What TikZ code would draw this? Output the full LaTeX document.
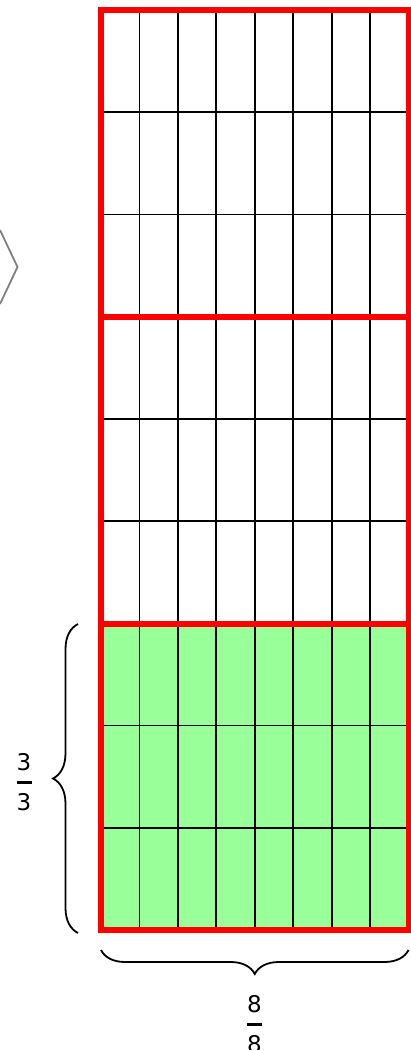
\documentclass[tikz,border=0pt]{standalone}
\usepackage{fontspec}
\setmainfont{DejaVu Sans}
\usetikzlibrary{decorations.pathreplacing}
\definecolor{cellgreen}{RGB}{153,255,153}
\tikzset{gridline/.style={draw=black,line width=1.8pt},
  block/.style={draw=red,line width=5.5pt},
  brc/.style={decorate,decoration={brace,amplitude=25pt},line width=1.8pt},
  fracnode/.style={align=center,inner sep=0pt,anchor=north,font=\fontsize{23}{20}\selectfont}}
\newcommand\fracbar{\rule[6.75pt]{15pt}{2.6pt}}

\begin{document}
\begin{tikzpicture}[x=1pt,y=-1pt]
\useasboundingbox (0,0) rectangle (411,1050);
% grid corners
\coordinate (tl) at (101,10);
\coordinate (br) at (408.5,930);
\fill[cellgreen] (101,624) rectangle (br);
\foreach \i in {1,...,7}{\draw[gridline] (101+\i*38.44,10) -- (101+\i*38.44,930);}
\foreach \j in {1,2,4,5,7,8}{\draw[gridline] (101,10+\j*102.22) -- (408.5,10+\j*102.22);}
\foreach \a/\b in {10/317,317/624,624/930}{\draw[block] (101,\a) rectangle (408.5,\b);}
% braces
\coordinate (lb1) at (78,933);
\coordinate (lb2) at (78,624);
\coordinate (bb1) at (408.5,950);
\coordinate (bb2) at (101,950);
\draw[brc] (lb1) -- (lb2);
\draw[brc,decoration={amplitude=24pt}] (bb1) -- (bb2);
\node[fracnode] (rowfrac) at (24,753) {3\\\fracbar\\3};
\node[fracnode] (colfrac) at (254.5,995) {8\\\fracbar\\8};
% arrow at left edge
\draw[gray,line width=1.8pt] (0,230) -- (17.5,267) -- (0,304);
\end{tikzpicture}
\end{document}
